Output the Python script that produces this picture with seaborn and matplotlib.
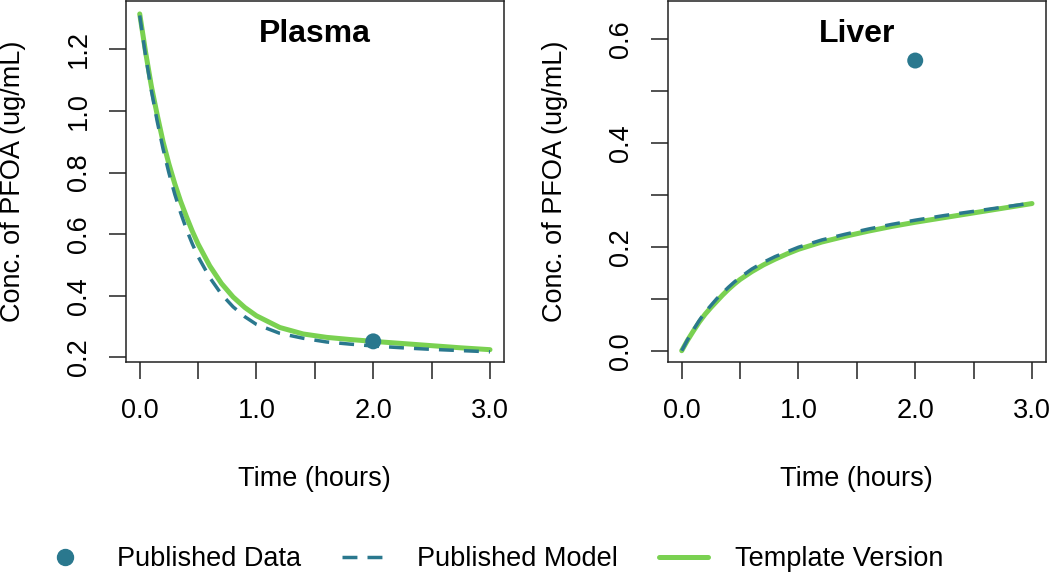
import matplotlib
matplotlib.use("Agg")
import matplotlib.pyplot as plt
import seaborn as sns
import numpy as np
import pandas as pd
from matplotlib.lines import Line2D

# ---- data ----
time_h = [0.0, 0.05, 0.1, 0.15, 0.2, 0.25, 0.3, 0.35, 0.4, 0.45, 0.5, 0.6,
          0.7, 0.8, 0.9, 1.0, 1.2, 1.4, 1.6, 1.8, 2.0, 2.25, 2.5, 2.75, 3.0]

plasma_template = [1.315, 1.192, 1.080, 0.987, 0.900, 0.828, 0.764, 0.707,
                   0.657, 0.610, 0.568, 0.497, 0.440, 0.396, 0.362, 0.335,
                   0.297, 0.276, 0.265, 0.258, 0.252, 0.245, 0.238, 0.231,
                   0.225]
plasma_published = [1.310, 1.180, 1.066, 0.966, 0.877, 0.799, 0.730, 0.670,
                    0.616, 0.569, 0.527, 0.459, 0.405, 0.364, 0.332, 0.307,
                    0.278, 0.262, 0.250, 0.243, 0.237, 0.231, 0.226, 0.222,
                    0.218]

liver_template = [0.000, 0.020, 0.038, 0.055, 0.070, 0.083, 0.095, 0.107,
                  0.118, 0.128, 0.137, 0.152, 0.165, 0.176, 0.186, 0.195,
                  0.209, 0.220, 0.230, 0.239, 0.247, 0.256, 0.265, 0.274,
                  0.283]
liver_published = [0.000, 0.021, 0.040, 0.058, 0.074, 0.087, 0.100, 0.111,
                   0.122, 0.132, 0.141, 0.157, 0.170, 0.181, 0.190, 0.199,
                   0.213, 0.224, 0.234, 0.243, 0.251, 0.260, 0.268, 0.276,
                   0.284]

data_time = [2.0]
plasma_data = [0.252]
liver_data = [0.558]

panel_titles = ["Plasma", "Liver"]
x_label = "Time (hours)"
y_label = "Conc. of PFOA (ug/mL)"
legend_labels = ["Published Data", "Published Model", "Template Version"]

x_ticks = [0.0, 0.5, 1.0, 1.5, 2.0, 2.5, 3.0]
x_ticklabels = ["0.0", "", "1.0", "", "2.0", "", "3.0"]
plasma_yticks = [0.2, 0.4, 0.6, 0.8, 1.0, 1.2]
plasma_yticklabels = ["0.2", "0.4", "0.6", "0.8", "1.0", "1.2"]
liver_yticks = [0.0, 0.1, 0.2, 0.3, 0.4, 0.5, 0.6]
liver_yticklabels = ["0.0", "", "0.2", "", "0.4", "", "0.6"]

# ---- style ----
sns.set_style("white")
plt.rcParams['font.family'] = ['Liberation Sans', 'DejaVu Sans']
plt.rcParams['text.color'] = 'black'
plt.rcParams['axes.labelcolor'] = 'black'
plt.rcParams['xtick.color'] = 'black'
plt.rcParams['ytick.color'] = 'black'

TEAL = "#2A788E"
GREEN = "#7AD151"
FS = 19.5

fig = plt.figure(figsize=(10.5, 5.76), dpi=100)
ax1 = fig.add_axes([125.7 / 1050, 1 - 362.3 / 576, 378.3 / 1050, 361.3 / 576])
ax2 = fig.add_axes([667.7 / 1050, 1 - 362.3 / 576, 378.3 / 1050, 361.3 / 576])

panels = [
    (ax1, plasma_template, plasma_published, plasma_data, (0.184, 1.357),
     plasma_yticks, plasma_yticklabels, panel_titles[0]),
    (ax2, liver_template, liver_published, liver_data, (-0.0223, 0.6725),
     liver_yticks, liver_yticklabels, panel_titles[1]),
]

for ax, tmpl, publ, pts, ylim, yt, ytl, title in panels:
    df = pd.DataFrame({"time": time_h, "template": tmpl, "published": publ})
    sns.lineplot(data=df, x="time", y="template", ax=ax, color=GREEN,
                 linewidth=3.6, solid_capstyle="round", solid_joinstyle="round")
    sns.lineplot(data=df, x="time", y="published", ax=ax, color=TEAL,
                 linewidth=2.5, linestyle=(0, (4.3, 2.9)))
    sns.scatterplot(x=data_time, y=pts, ax=ax, color=TEAL, s=11.5 ** 2,
                    edgecolor="none", zorder=5)
    ax.set_xlim(-0.12, 3.12)
    ax.set_ylim(*ylim)
    ax.set_xticks(x_ticks)
    ax.set_xticklabels(x_ticklabels, fontsize=FS)
    ax.set_yticks(yt)
    ax.set_yticklabels(ytl, fontsize=FS, rotation=90, va="center")
    ax.tick_params(axis="both", direction="out", length=12, width=1.1,
                   color="#222222", labelcolor="black", bottom=True, left=True)
    ax.tick_params(axis="x", pad=14)
    ax.tick_params(axis="y", pad=12)
    for sp in ax.spines.values():
        sp.set_visible(True)
        sp.set_color("#222222")
        sp.set_linewidth(1.1)
    ax.set_xlabel(x_label, fontsize=FS, va="center", color="black")
    ax.xaxis.set_label_coords(0.5, (362.3 - 479) / 361.3)
    ax.set_ylabel(y_label, fontsize=FS, va="center", color="black")
    ax.yaxis.set_label_coords((13.5 - 125.7) / 378.3, 0.5)
    ax.text(0.5, 0.91, title, transform=ax.transAxes, ha="center",
            va="center", fontsize=23, fontweight="bold", color="black")

handles = [
    Line2D([], [], color=TEAL, marker="o", linestyle="none", markersize=11.5),
    Line2D([], [], color=TEAL, linewidth=2.5, linestyle=(0, (4.3, 2.9))),
    Line2D([], [], color=GREEN, linewidth=3.6),
]
fig.legend(handles, legend_labels, loc="center", ncol=3, frameon=False,
           fontsize=FS, bbox_to_anchor=(492 / 1050, 1 - 559 / 576),
           handlelength=1.8, handletextpad=1.0, columnspacing=1.5)

fig.savefig("out.png", dpi=100)
